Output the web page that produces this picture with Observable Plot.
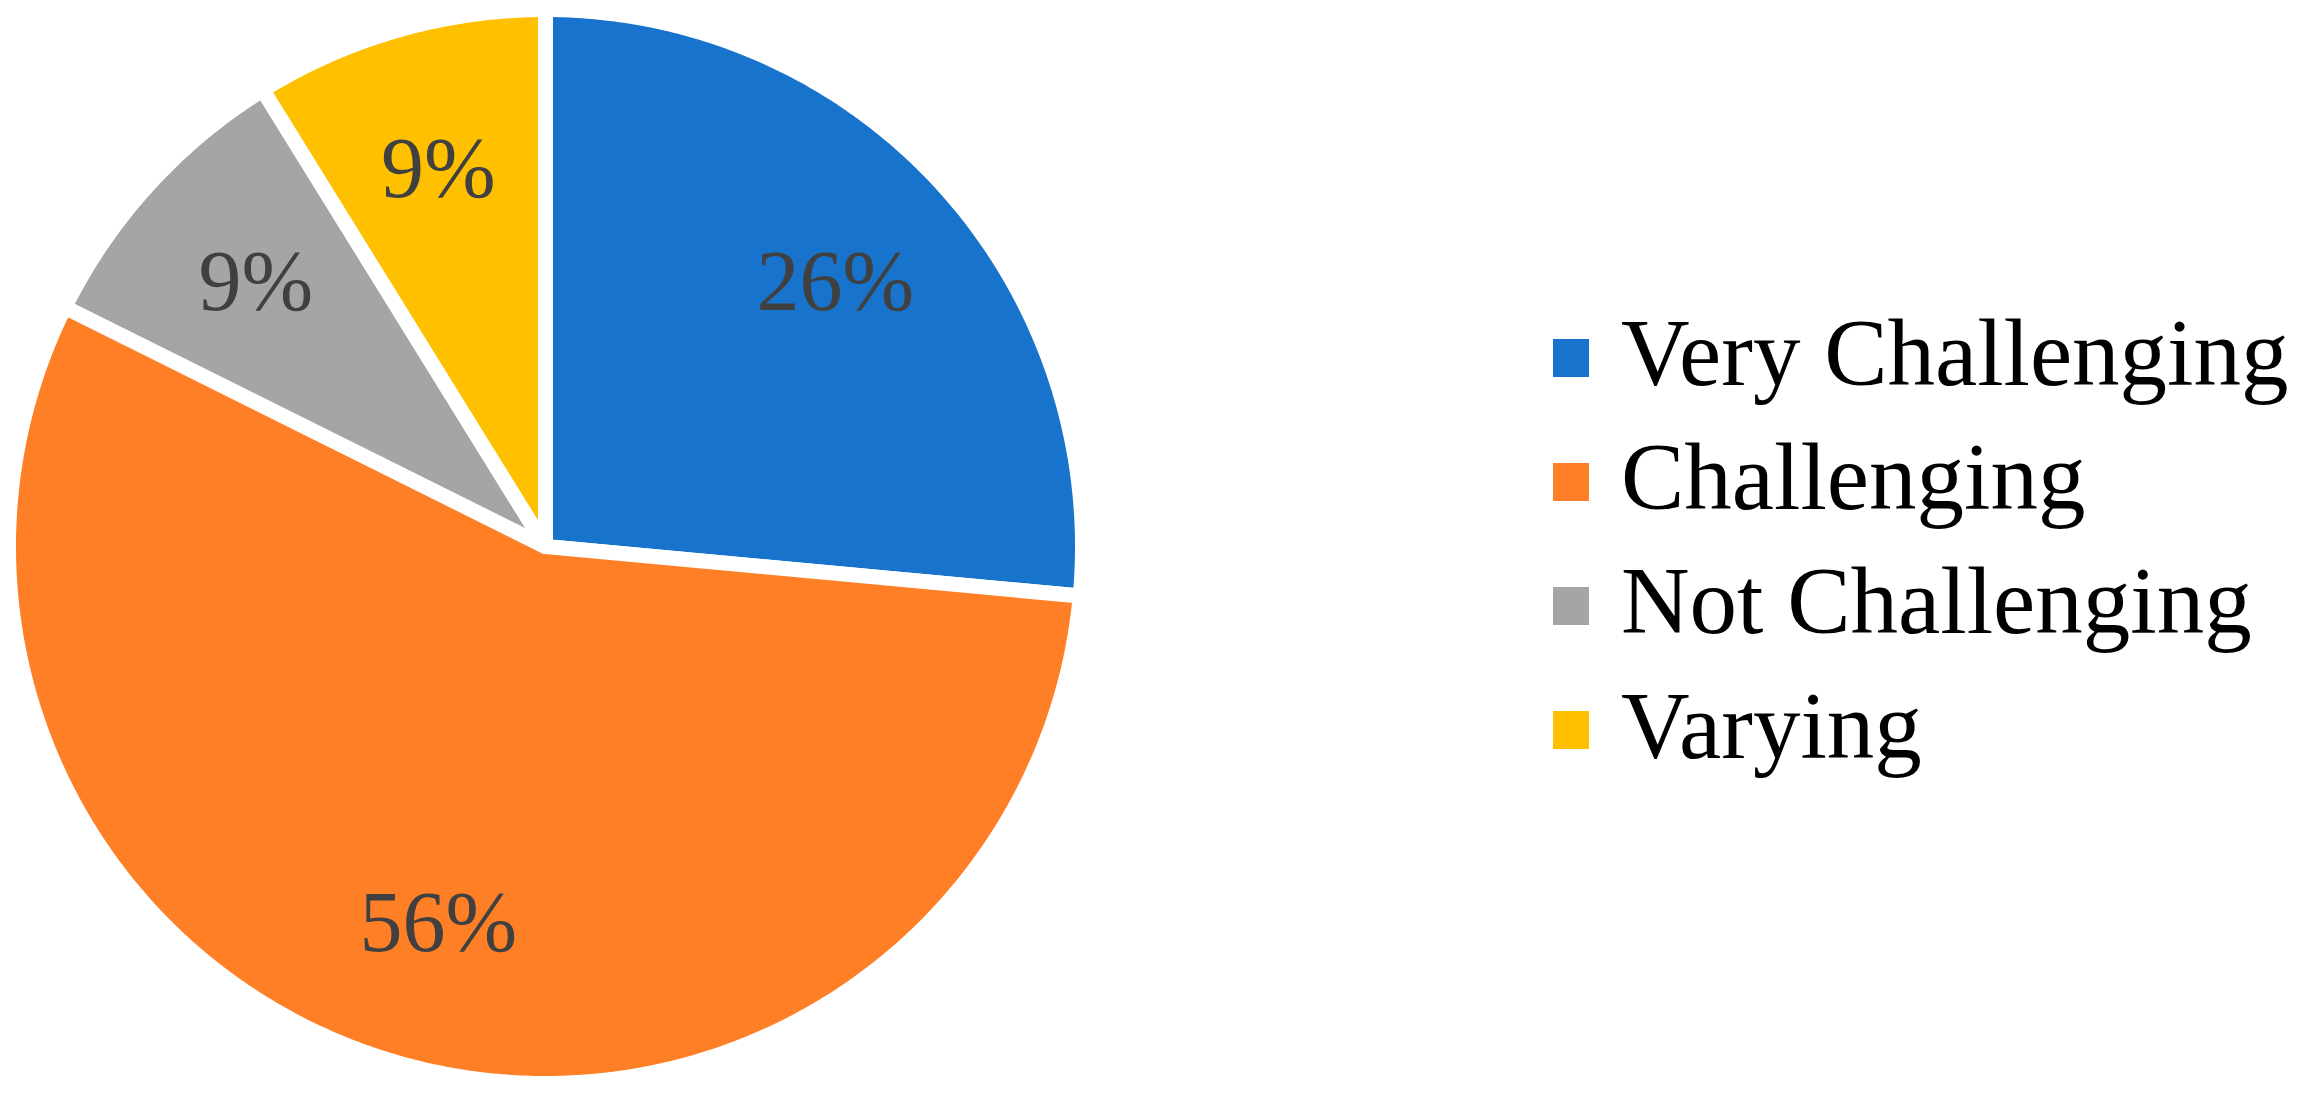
<!DOCTYPE html>
<html>
<head>
<meta charset="utf-8">
<script src="https://cdn.jsdelivr.net/npm/d3@7"></script>
<script src="https://cdn.jsdelivr.net/npm/@observablehq/plot@0.6"></script>
<style>
  html, body { margin: 0; padding: 0; background: #fff; }
  #wrap { position: relative; width: 2320px; height: 1097px; overflow: hidden; }
  #chart { position: absolute; left: 0; top: 0; }
  .lg-row { position: absolute; left: 1553px; height: 95px; display: flex; align-items: center; white-space: nowrap; }
  .lg-sw { width: 36px; height: 38px; flex: none; }
  .lg-tx { margin-left: 32px; font-family: "Liberation Serif", "DejaVu Serif", serif; font-size: 95px; line-height: 95px;
           color: #000; position: relative; top: -4px; }
</style>
</head>
<body>
<div id="wrap">
  <div id="chart"></div>
  <div id="legend"></div>
</div>
<script>
// ---- data ----
const categories = ["Very Challenging", "Challenging", "Not Challenging", "Varying"];
const counts = [9, 19, 3, 3];
const colors = ["#1873CC", "#FF7F27", "#A5A5A5", "#FFC000"];

// ---- layout ----
const W = 2320, H = 1097;
const cx = 545, cy = 546, R = 537; // pixel centre & radius of the pie

const total = d3.sum(counts);
let acc = 0;
const slices = categories.map((c, i) => {
  const a0 = acc / total * 2 * Math.PI;
  acc += counts[i];
  const a1 = acc / total * 2 * Math.PI;
  return {category: c, count: counts[i], a0, a1, pct: Math.round(counts[i] / total * 100) + "%"};
});

// slice outlines in radius units (angle clockwise from 12 o'clock)
const rows = [];
for (const s of slices) {
  rows.push({category: s.category, x: 0, y: 0});
  const n = Math.max(2, Math.ceil((s.a1 - s.a0) / (Math.PI / 360)));
  for (let k = 0; k <= n; k++) {
    const a = s.a0 + (s.a1 - s.a0) * k / n;
    rows.push({category: s.category, x: Math.sin(a), y: Math.cos(a)});
  }
  rows.push({category: s.category, x: 0, y: 0});
}
const labels = slices.map(s => {
  const m = (s.a0 + s.a1) / 2;
  return {category: s.category, text: s.pct, x: 0.73 * Math.sin(m), y: 0.73 * Math.cos(m)};
});

const plot = Plot.plot({
  width: W, height: H,
  margin: 0,
  x: {domain: [-cx / R, (W - cx) / R], axis: null},
  y: {domain: [-(H - cy) / R, cy / R], axis: null},
  color: {domain: categories, range: colors},
  style: {background: "#fff", overflow: "visible"},
  marks: [
    Plot.line(rows, {x: "x", y: "y", z: "category", fill: "category", stroke: "white",
                     strokeWidth: 15, curve: "linear", strokeLinejoin: "round"}),
    Plot.text(labels, {x: "x", y: "y", text: "text", fill: "#404040", fontSize: 86,
                       fontFamily: "Liberation Serif, DejaVu Serif, serif"})
  ]
});
document.getElementById("chart").appendChild(plot);

// ---- legend (HTML, right side) ----
const color = plot.scale("color");
const legend = document.getElementById("legend");
categories.forEach((c, i) => {
  const row = document.createElement("div");
  row.className = "lg-row";
  row.style.top = (357.5 + 124.2 * i - 47.5) + "px";
  const sw = document.createElement("span");
  sw.className = "lg-sw";
  sw.style.background = color.apply(c);
  const tx = document.createElement("span");
  tx.className = "lg-tx";
  tx.textContent = c;
  row.appendChild(sw);
  row.appendChild(tx);
  legend.appendChild(row);
});
</script>
</body>
</html>
